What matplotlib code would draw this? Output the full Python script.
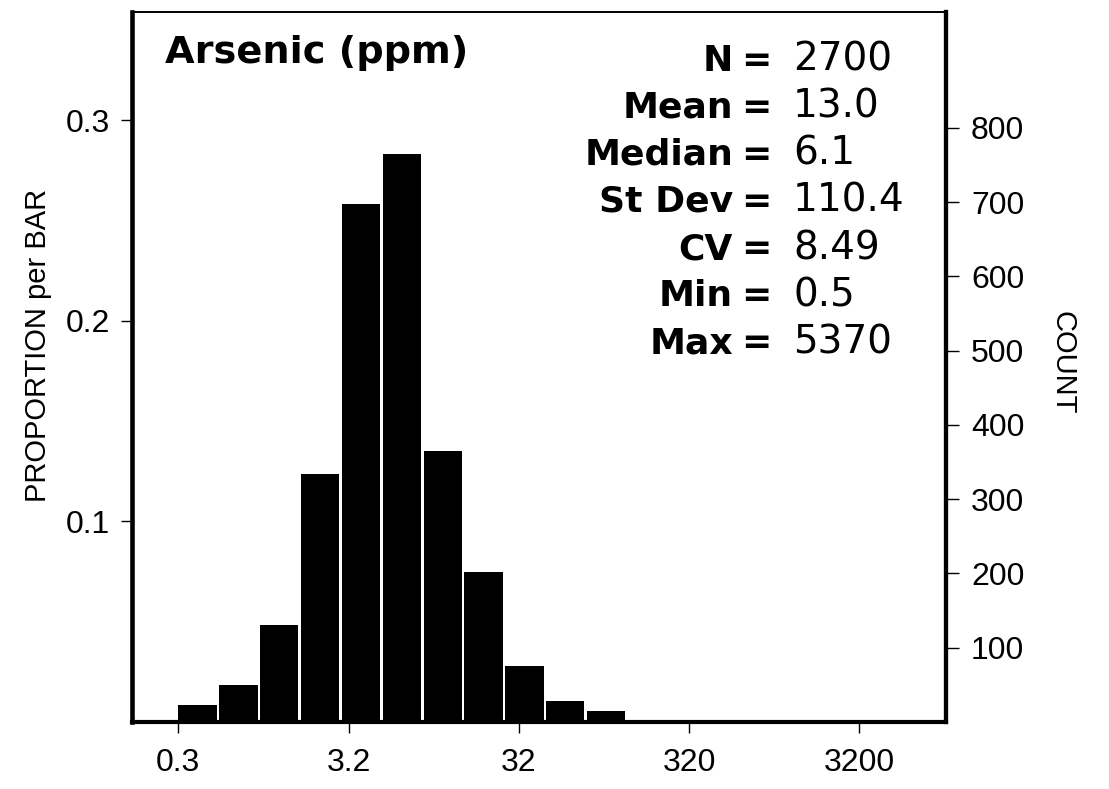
import matplotlib.pyplot as plt
import numpy as np

# histogram of arsenic (ppm), log10 bins
counts = [23, 50, 131, 334, 698, 765, 365, 202, 75, 28, 15]
n_total = 2700
tick_vals = [10**-0.5, 10**0.5, 10**1.5, 10**2.5, 10**3.5]
tick_labels = ["0.3", "3.2", "32", "320", "3200"]
count_ticks = [100, 200, 300, 400, 500, 600, 700, 800]
prop_ticks = [0.1, 0.2, 0.3]
stat_names = ["N", "Mean", "Median", "St Dev", "CV", "Min", "Max"]
stat_values = ["2700", "13.0", "6.1", "110.4", "8.49", "0.5", "5370"]

W, H = 1109, 789
fig = plt.figure(figsize=(W / 100, H / 100), dpi=100)
ax = fig.add_axes([132 / W, 67 / H, 814 / W, 710 / H])

# bins: start at 10^-0.5, step 0.24 decade, bar fills 0.225 decade
step = 0.24
fill = 0.225
k = np.arange(len(counts))
lo = 10 ** (-0.5 + k * step)
hi = lo * 10 ** fill
props = np.array(counts) / n_total

ax.set_xscale("log")
ax.bar(lo, props, width=hi - lo, align="edge", color="black", edgecolor="none")

ax.set_xlim(10 ** -0.772, 10 ** 4.008)
ytop = 0.354
ax.set_ylim(0, ytop)
ax.set_xticks(tick_vals)
ax.set_xticklabels(tick_labels)
ax.xaxis.set_minor_locator(plt.NullLocator())
ax.set_yticks(prop_ticks)
ax.set_yticklabels([str(v) for v in prop_ticks])

for lab in ax.get_xticklabels() + ax.get_yticklabels():
    lab.set_fontfamily("Liberation Sans")
    lab.set_fontsize(23)
ax.tick_params(axis="x", direction="out", length=8, width=1, pad=11)
ax.tick_params(axis="y", direction="out", length=8, width=1, pad=8)

for side, lw in [("left", 3.3), ("bottom", 3.0), ("right", 3.0), ("top", 1.4)]:
    ax.spines[side].set_linewidth(lw)

ax2 = ax.twinx()
ax2.set_ylim(0, ytop * n_total)
ax2.set_yticks(count_ticks)
ax2.set_yticklabels([str(v) for v in count_ticks])
for lab in ax2.get_yticklabels():
    lab.set_fontfamily("Liberation Sans")
    lab.set_fontsize(23)
ax2.tick_params(axis="y", direction="out", length=9, width=1, pad=9)
for side in ["left", "bottom", "top"]:
    ax2.spines[side].set_visible(False)
ax2.spines["right"].set_linewidth(3.0)

fig.text(38 / W, 1 - 345 / H, "PROPORTION per BAR", rotation=90,
         ha="center", va="center", fontfamily="Liberation Sans", fontsize=21)
fig.text(1063 / W, 1 - 363 / H, "COUNT", rotation=-90,
         ha="center", va="center", fontfamily="Liberation Sans", fontsize=21)

fig.text(165 / W, 1 - 63 / H, "Arsenic (ppm)", ha="left", va="baseline",
         fontfamily="DejaVu Sans", fontweight="bold", fontsize=27.5)

base0 = 70.7
gap = 47.1
for i, (name, val) in enumerate(zip(stat_names, stat_values)):
    yb = 1 - (base0 + i * gap) / H
    fig.text(733 / W, yb, name, ha="right", va="baseline",
             fontfamily="DejaVu Sans", fontweight="bold", fontsize=26)
    fig.text(756 / W, yb, "=", ha="center", va="baseline",
             fontfamily="DejaVu Sans", fontweight="bold", fontsize=26)
    fig.text(793 / W, yb, val, ha="left", va="baseline",
             fontfamily="DejaVu Sans", fontsize=28)

fig.savefig("out.png", dpi=100)
